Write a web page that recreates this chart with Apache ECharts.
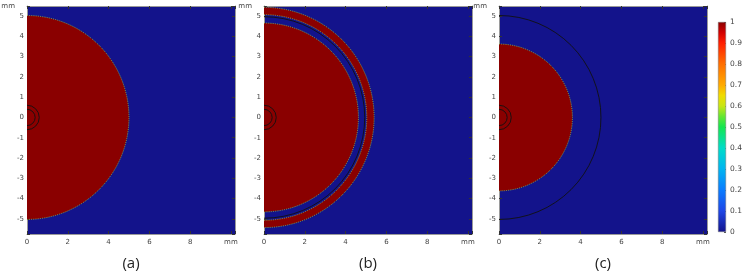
<!DOCTYPE html>
<html>
<head>
<meta charset="utf-8">
<script src="https://cdn.jsdelivr.net/npm/echarts@6/dist/echarts.min.js"></script>
<style>
  html, body { margin: 0; background: #fff; }
  #main { width: 745px; height: 275px; }
</style>
</head>
<body>
<div id="main"></div>
<script>
// panel data (mm)
const panelLabels = ['(a)', '(b)', '(c)'];
const diskRadius = [5, 4.63, 3.6];
const ringRadius = [null, [5.04, 5.4], null];
const boundaryRadius = [null, 4.94, 5];
const probeRadius = [0.4, 0.6];
const xRange = [0, 10.2];
const yRange = [-5.75, 5.5];
const colorbarRange = [0, 1];

const BLUE = '#13138b';
const RED = '#8a0000';
const EDGE = '#8cc850';
const FRAME = '#9a9a9a';
const TEXT = '#444';

const gridLeft = [27, 264, 499];
const colorStops = [
  [0, BLUE], [0.1, '#1e46e6'], [0.2, '#0a7cff'], [0.3, '#00b4f0'],
  [0.4, '#00dcc8'], [0.5, '#14e650'], [0.55, '#64e632'], [0.6, '#c8e614'],
  [0.65, '#f0dc00'], [0.7, '#ffaa00'], [0.8, '#ff6e00'], [0.9, '#ff1e00'],
  [0.95, '#d20000'], [1, RED]
];

let chart = echarts.init(document.getElementById('main'));

function halfArc(cx, cy, r, style) {
  return {
    type: 'arc',
    shape: {cx: cx, cy: cy, r: r, startAngle: -Math.PI / 2, endAngle: Math.PI / 2, clockwise: true},
    style: Object.assign({fill: 'none'}, style),
  };
}

function renderFill(params, api) {
  const c = api.coord([0, 0]);
  const r0 = api.size([api.value(0), 0])[0];
  const r = api.size([api.value(1), 0])[0];
  const children = [{
    type: 'sector',
    shape: {cx: c[0], cy: c[1], r0: r0, r: r, startAngle: -Math.PI / 2, endAngle: Math.PI / 2, clockwise: true},
    style: {fill: RED},
  }];
  [r0, r].forEach((rr) => {
    if (rr > 0) children.push(halfArc(c[0], c[1], rr, {stroke: EDGE, lineWidth: 0.8, lineDash: [1, 1.2]}));
  });
  return {type: 'group', children: children};
}

function renderLine(params, api) {
  const c = api.coord([0, 0]);
  const r = api.size([api.value(0), 0])[0];
  return halfArc(c[0], c[1], r, {stroke: '#111', lineWidth: 0.9});
}

const tickStyle = {show: true, inside: true, length: 3, lineStyle: {color: '#333', width: 1}};
const lineStyle = {show: true, onZero: false, lineStyle: {color: FRAME, width: 1}};
const labelFont = {fontSize: 7, fontFamily: 'DejaVu Sans', color: TEXT};

const grids = [];
const xAxes = [];
const yAxes = [];
const series = [];

panelLabels.forEach((label, i) => {
  grids.push({left: gridLeft[i], top: 6, width: 208, height: 228, show: true, backgroundColor: BLUE, borderWidth: 0});
  const xBase = {type: 'value', gridIndex: i, min: xRange[0], max: xRange[1], minInterval: 2, maxInterval: 2,
    axisLine: lineStyle, axisTick: tickStyle, splitLine: {show: false}};
  const yBase = {type: 'value', gridIndex: i, min: yRange[0], max: yRange[1], minInterval: 1, maxInterval: 1,
    axisLine: lineStyle, axisTick: tickStyle, splitLine: {show: false}};
  xAxes.push(Object.assign({}, xBase, {
    position: 'bottom',
    axisLabel: Object.assign({margin: 5, formatter: (v) => (Math.abs(v - 10) < 1e-6 ? 'mm' : (Math.abs(v % 2) < 1e-6 ? String(v) : ''))}, labelFont),
  }));
  xAxes.push(Object.assign({}, xBase, {position: 'top', axisLabel: {show: false}}));
  yAxes.push(Object.assign({}, yBase, {
    position: 'left',
    name: 'mm', nameLocation: 'end', nameGap: 0,
    nameTextStyle: Object.assign({align: 'right', verticalAlign: 'middle', padding: [0, 12, 0, 0]}, labelFont),
    axisLabel: Object.assign({margin: 3, formatter: (v) => (Number.isInteger(v) ? String(v) : '')}, labelFont),
  }));
  yAxes.push(Object.assign({}, yBase, {position: 'right', axisLabel: {show: false}}));

  const fills = [[0, diskRadius[i]]];
  if (ringRadius[i]) fills.push(ringRadius[i]);
  const lines = probeRadius.map((r) => [r]);
  if (boundaryRadius[i]) lines.push([boundaryRadius[i]]);

  series.push({type: 'custom', xAxisIndex: 2 * i, yAxisIndex: 2 * i, renderItem: renderFill, data: fills, silent: true, z: 1});
  series.push({type: 'custom', xAxisIndex: 2 * i, yAxisIndex: 2 * i, renderItem: renderLine, data: lines, silent: true, z: 2});
});

// colour bar
grids.push({left: 718, top: 22, width: 8, height: 210});
xAxes.push({type: 'category', gridIndex: 3, data: ['c'], show: false});
yAxes.push({
  type: 'value', gridIndex: 3, position: 'right', min: colorbarRange[0], max: colorbarRange[1], interval: 0.1,
  axisLine: {show: false}, splitLine: {show: false},
  axisTick: {show: true, inside: true, length: 2, lineStyle: {color: '#555'}},
  axisLabel: Object.assign({margin: 4, formatter: (v) => String(+v.toFixed(1))}, labelFont, {fontSize: 7.5}),
});
series.push({
  type: 'bar', xAxisIndex: 6, yAxisIndex: 6, barWidth: '100%', silent: true,
  data: [colorbarRange[1]],
  itemStyle: {
    borderColor: '#777', borderWidth: 0.5,
    color: {type: 'linear', x: 0, y: 1, x2: 0, y2: 0, colorStops: colorStops.map((s) => ({offset: s[0], color: s[1]}))},
  },
});

const option = {
  animation: false,
  grid: grids,
  xAxis: xAxes,
  yAxis: yAxes,
  series: series,
  graphic: panelLabels.map((label, i) => ({
    type: 'text', x: gridLeft[i] + 104, y: 264,
    style: {text: label, align: 'center', verticalAlign: 'middle', font: '15px "Open Sans"', fill: '#222'},
  })),
};

chart.setOption(option);
</script>
</body>
</html>
